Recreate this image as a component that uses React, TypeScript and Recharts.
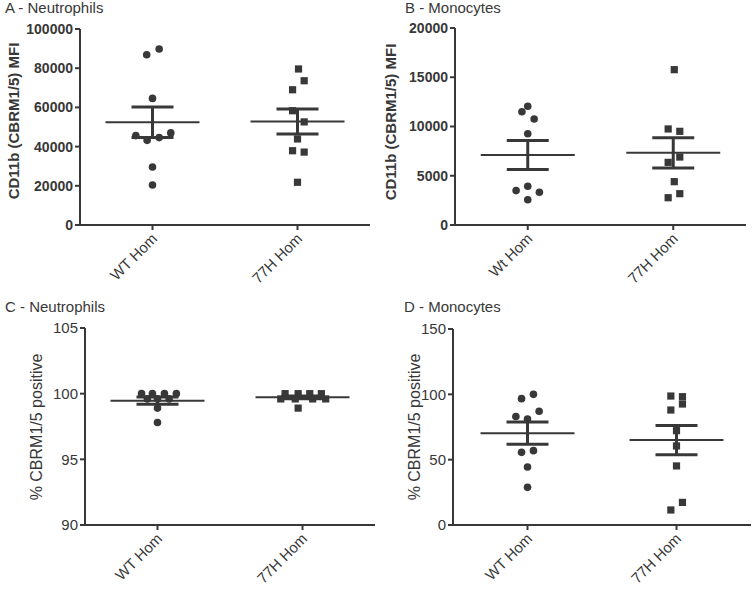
import React from "react";
import { ScatterChart, Scatter, XAxis, YAxis, ErrorBar } from "recharts";

const INK = "#383838";
const FONT = "'Liberation Sans', Arial, sans-serif";

// group names
const groupsA = ["WT Hom", "77H Hom"];
const groupsB = ["Wt Hom", "77H Hom"];

// A - Neutrophils, CD11b MFI
const aWtValues = [86900, 89800, 64600, 45600, 43200, 44600, 47000, 29600, 20400];
const aWtJitter = [-0.04, 0.046, 0, -0.115, -0.037, 0.046, 0.126, 0, 0];
const a77Values = [79600, 73600, 69000, 58300, 52600, 43900, 37900, 37200, 21800];
const a77Jitter = [0.007, 0.046, -0.034, -0.034, 0.046, 0, -0.034, 0.046, 0];
const aMean = [52400, 52800];
const aSem = [7800, 6400];
const aTicks = [0, 20000, 40000, 60000, 80000, 100000];

// B - Monocytes, CD11b MFI
const bWtValues = [11500, 12050, 10760, 9270, 3490, 3930, 3320, 2570];
const bWtJitter = [-0.04, 0, 0.044, 0, -0.08, 0, 0.08, 0];
const b77Values = [15770, 9750, 9510, 6360, 6900, 4400, 2770, 3180];
const b77Jitter = [0.007, -0.035, 0.045, -0.035, 0.045, 0.007, -0.035, 0.045];
const bMean = [7110, 7330];
const bSem = [1480, 1540];
const bTicks = [0, 5000, 10000, 15000, 20000];

// C - Neutrophils, % positive
const cWtValues = [100, 100, 100, 100, 99.6, 99.6, 99.6, 98.9, 97.8];
const cWtJitter = [-0.11, -0.035, 0.048, 0.13, -0.07, 0, 0.08, 0, 0];
const c77Values = [100, 100, 100, 100, 99.6, 99.6, 99.6, 99.6, 98.9];
const c77Jitter = [-0.12, -0.03, 0.05, 0.13, -0.15, -0.05, 0.07, 0.16, -0.03];
const cMean = [99.47, 99.72];
const cSem = [0.27, 0.1];
const cTicks = [90, 95, 100, 105];

// D - Monocytes, % positive
const dWtValues = [96.7, 100, 83, 81.1, 87, 55.6, 56.9, 44.4, 28.8];
const dWtJitter = [-0.04, 0.04, -0.078, 0, 0.078, -0.04, 0.04, 0, 0];
const d77Values = [98.7, 98.2, 92.6, 88, 72.2, 60.5, 45.2, 11.5, 17.3];
const d77Jitter = [-0.038, 0.04, 0.04, -0.038, 0, 0, 0, -0.038, 0.04];
const dMean = [70.3, 65.0];
const dSem = [8.5, 11.2];
const dTicks = [0, 50, 100, 150];

const toPoints = (values: number[], jitter: number[], center: number) =>
  values.map((y, i) => ({ x: center + jitter[i], y }));

const toMeans = (mean: number[], sem: number[]) =>
  mean.map((y, i) => ({ x: i + 1, y, sem: sem[i] }));

const Dot = (p: any) => <circle cx={p.cx} cy={p.cy} r={3.8} fill={INK} />;
const Square = (p: any) => (
  <rect x={p.cx - 3.6} y={p.cy - 3.6} width={7.2} height={7.2} fill={INK} />
);
const MeanLine = (p: any) => (
  <line x1={p.cx - 47} x2={p.cx + 47} y1={p.cy} y2={p.cy} stroke={INK} strokeWidth={2} />
);

function XTick(props: any) {
  const { x, y, payload, labels } = props;
  return (
    <g transform={`translate(${x + 2},${y + 4})`}>
      <text
        x={0}
        y={0}
        dy="0.35em"
        textAnchor="end"
        transform="rotate(-45)"
        fill={INK}
        fontSize={15}
        fontFamily={FONT}
      >
        {labels[payload.value - 1]}
      </text>
    </g>
  );
}

type PanelProps = {
  left: number;
  top: number;
  height: number;
  title: string;
  titleX: number;
  titleY: number;
  yLabel: string;
  yLabelX: number;
  yLabelShift: number;
  yLabelSize: number;
  bold: boolean;
  labels: string[];
  domain: [number, number];
  ticks: number[];
  yWidth: number;
  margin: { top: number; right: number; bottom: number; left: number };
  xHeight: number;
  wt: { x: number; y: number }[];
  mut: { x: number; y: number }[];
  means: { x: number; y: number; sem: number }[];
};

function Panel(p: PanelProps) {
  const plotTop = p.margin.top;
  const plotBottom = p.height - p.margin.bottom - p.xHeight;
  return (
    <div style={{ position: "absolute", left: p.left, top: p.top, width: 376, height: p.height }}>
      <div
        style={{
          position: "absolute",
          left: p.titleX,
          top: p.titleY,
          fontSize: 15,
          fontFamily: FONT,
          color: INK,
          whiteSpace: "nowrap",
        }}
      >
        {p.title}
      </div>
      <div
        style={{
          position: "absolute",
          left: p.yLabelX,
          top: (plotTop + plotBottom) / 2 + p.yLabelShift,
          transform: "translate(-50%, -50%) rotate(-90deg)",
          fontSize: p.yLabelSize,
          fontWeight: p.bold ? "bold" : "normal",
          fontFamily: FONT,
          color: INK,
          whiteSpace: "nowrap",
        }}
      >
        {p.yLabel}
      </div>
      <ScatterChart width={376} height={p.height} margin={p.margin}>
        <XAxis
          type="number"
          dataKey="x"
          domain={[0.5, 2.5]}
          ticks={[1, 2]}
          height={p.xHeight}
          tick={<XTick labels={p.labels} />}
          tickSize={5}
          tickMargin={2}
          axisLine={{ stroke: INK, strokeWidth: 2 }}
          tickLine={{ stroke: INK, strokeWidth: 2 }}
          allowDataOverflow
        />
        <YAxis
          type="number"
          dataKey="y"
          domain={p.domain}
          ticks={p.ticks}
          width={p.yWidth}
          tickSize={5}
          tickMargin={2}
          axisLine={{ stroke: INK, strokeWidth: 2 }}
          tickLine={{ stroke: INK, strokeWidth: 2 }}
          tick={{
            fill: INK,
            fontSize: p.bold ? 14 : 15,
            fontWeight: p.bold ? "bold" : "normal",
            fontFamily: FONT,
          }}
          allowDataOverflow
        />
        <Scatter data={p.wt} shape={Dot} isAnimationActive={false} />
        <Scatter data={p.mut} shape={Square} isAnimationActive={false} />
        <Scatter data={p.means} shape={MeanLine} isAnimationActive={false}>
          <ErrorBar
            dataKey="sem"
            direction="y"
            width={21}
            stroke={INK}
            strokeWidth={3}
            isAnimationActive={false}
          />
        </Scatter>
      </ScatterChart>
    </div>
  );
}

export default function App() {
  return (
    <div
      style={{
        position: "absolute",
        left: 0,
        top: 0,
        width: 752,
        height: 591,
        background: "#fff",
        overflow: "hidden",
      }}
    >
      <Panel
        left={0}
        top={0}
        height={300}
        title="A - Neutrophils"
        titleX={5}
        titleY={-1}
        yLabel="CD11b (CBRM1/5) MFI"
        yLabelX={13}
        yLabelShift={-6}
        yLabelSize={15}
        bold
        labels={groupsA}
        domain={[0, 100000]}
        ticks={aTicks}
        yWidth={80}
        margin={{ top: 29, right: 6, bottom: 5, left: 0 }}
        xHeight={70}
        wt={toPoints(aWtValues, aWtJitter, 1)}
        mut={toPoints(a77Values, a77Jitter, 2)}
        means={toMeans(aMean, aSem)}
      />
      <Panel
        left={376}
        top={0}
        height={300}
        title="B - Monocytes"
        titleX={29}
        titleY={-1}
        yLabel="CD11b (CBRM1/5) MFI"
        yLabelX={14}
        yLabelShift={-5}
        yLabelSize={15}
        bold
        labels={groupsB}
        domain={[0, 20000]}
        ticks={bTicks}
        yWidth={79}
        margin={{ top: 28, right: 6, bottom: 5, left: 0 }}
        xHeight={70}
        wt={toPoints(bWtValues, bWtJitter, 1)}
        mut={toPoints(b77Values, b77Jitter, 2)}
        means={toMeans(bMean, bSem)}
      />
      <Panel
        left={0}
        top={290}
        height={301}
        title="C - Neutrophils"
        titleX={5}
        titleY={8}
        yLabel="% CBRM1/5 positive"
        yLabelX={37}
        yLabelShift={0}
        yLabelSize={16}
        bold={false}
        labels={groupsA}
        domain={[90, 105]}
        ticks={cTicks}
        yWidth={85}
        margin={{ top: 38, right: 1, bottom: 0, left: 0 }}
        xHeight={66}
        wt={toPoints(cWtValues, cWtJitter, 1)}
        mut={toPoints(c77Values, c77Jitter, 2)}
        means={toMeans(cMean, cSem)}
      />
      <Panel
        left={376}
        top={290}
        height={301}
        title="D - Monocytes"
        titleX={28}
        titleY={8}
        yLabel="% CBRM1/5 positive"
        yLabelX={39}
        yLabelShift={0}
        yLabelSize={16}
        bold={false}
        labels={groupsA}
        domain={[0, 150]}
        ticks={dTicks}
        yWidth={77}
        margin={{ top: 39, right: 1, bottom: 0, left: 0 }}
        xHeight={66}
        wt={toPoints(dWtValues, dWtJitter, 1)}
        mut={toPoints(d77Values, d77Jitter, 2)}
        means={toMeans(dMean, dSem)}
      />
    </div>
  );
}
